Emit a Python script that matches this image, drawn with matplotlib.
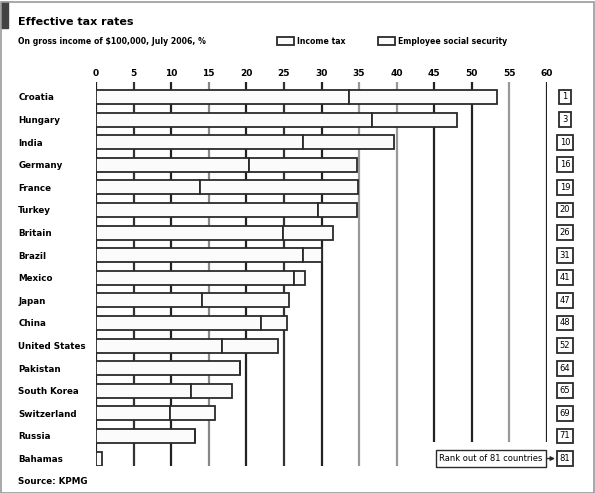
import matplotlib.pyplot as plt
from matplotlib.patches import Rectangle
from matplotlib.transforms import blended_transform_factory

countries = ['Croatia', 'Hungary', 'India', 'Germany', 'France', 'Turkey', 'Britain',
             'Brazil', 'Mexico', 'Japan', 'China', 'United States', 'Pakistan',
             'South Korea', 'Switzerland', 'Russia', 'Bahamas']
income_tax = [33.6, 36.7, 27.5, 20.3, 13.9, 29.5, 24.9, 27.5, 26.4, 14.1, 21.9, 16.7,
              19.1, 12.6, 9.8, 13.2, 0.0]
social_security = [19.7, 11.3, 12.1, 14.4, 20.9, 5.2, 6.6, 2.5, 1.4, 11.6, 3.5, 7.5,
                   0.0, 5.5, 6.0, 0.0, 0.8]
ranks = [1, 3, 10, 16, 19, 20, 26, 31, 41, 47, 48, 52, 64, 65, 69, 71, 81]
xticks = list(range(0, 65, 5))

EDGE = '#2a2a2a'
FILL = '#fbfbfb'
grid_colors = ['#222222', '#333333', '#222222', '#888888', '#222222', '#333333', '#222222',
               '#999999', '#999999', '#222222', '#222222', '#999999', '#222222']

fig = plt.figure(figsize=(5.95, 4.93), dpi=100)
ax = fig.add_axes([96 / 595, 1 - 466 / 493, (547 - 96) / 595, (466 - 82) / 493])

rows = list(range(len(countries)))
# grid lines behind the bars; the right ones stop above the rank note
for t, c in zip(xticks, grid_colors):
    bottom = 16.33 if t <= 40 else 15.27
    ax.vlines(t, -0.66, bottom, color=c, lw=1.6, zorder=0)

ax.barh(rows, income_tax, height=0.62, color=FILL, edgecolor=EDGE, lw=1.3, zorder=2)
ax.barh(rows, social_security, left=income_tax, height=0.62, color=FILL,
        edgecolor=EDGE, lw=1.3, zorder=2)

ax.set_xlim(0, 60)
ax.set_ylim(16.33, -0.66)
ax.xaxis.tick_top()
ax.set_xticks(xticks)
ax.set_xticklabels([str(t) for t in xticks], fontsize=6.5, fontweight='bold')
ax.tick_params(axis='x', length=0, pad=3)
ax.set_yticks(rows)
ax.set_yticklabels(countries, fontsize=6.3, fontweight='bold', ha='left')
ax.tick_params(axis='y', length=0, pad=56)
for s in ax.spines.values():
    s.set_visible(False)

# rank boxes
tr = blended_transform_factory(fig.transFigure, ax.transData)
for r, rank in zip(rows, ranks):
    ax.text(565 / 595, r, str(rank), transform=tr, ha='center', va='center',
            fontsize=6, bbox=dict(boxstyle='square,pad=0.35', fc='white', ec=EDGE, lw=1.3),
            clip_on=False)
ax.annotate('Rank out of 81 countries', xy=(555 / 595, rows[-1]), xycoords=tr,
            xytext=(491 / 595, rows[-1]), textcoords=tr, ha='center', va='center',
            fontsize=6,
            bbox=dict(boxstyle='square,pad=0.45', fc='white', ec=EDGE, lw=1),
            arrowprops=dict(arrowstyle='-|>', color=EDGE, lw=1, shrinkA=0, shrinkB=0))

# title block
fig.patches.append(Rectangle((1 / 595, 1 - 28 / 493), 7 / 595, 26 / 493,
                             transform=fig.transFigure, color='#444444'))
fig.text(18 / 595, 1 - 22 / 493, 'Effective tax rates', fontsize=8, fontweight='bold',
         va='center')
fig.text(18 / 595, 1 - 41 / 493, 'On gross income of $100,000, July 2006, %', fontsize=5.6,
         fontweight='bold', va='center')

# legend
for x0, label in [(277, 'Income tax'), (378, 'Employee social security')]:
    fig.patches.append(Rectangle((x0 / 595, 1 - 45 / 493), 17 / 595, 8 / 493,
                                 transform=fig.transFigure, fc=FILL, ec=EDGE, lw=1.3))
    fig.text((x0 + 20) / 595, 1 - 41 / 493, label, fontsize=5.6, fontweight='bold',
             va='center')

fig.text(18 / 595, 1 - 481 / 493, 'Source: KPMG', fontsize=6.3, fontweight='bold',
         va='center')

# outer frame
fig.patches.append(Rectangle((0.5 / 595, 0.5 / 493), 593 / 595, 491 / 493,
                             transform=fig.transFigure, fill=False, ec='#999999', lw=1.2))

fig.savefig('out.png', dpi=100)
